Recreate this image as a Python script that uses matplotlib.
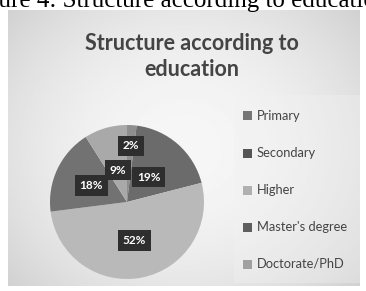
import numpy as np
import matplotlib
matplotlib.use('Agg')
import matplotlib.pyplot as plt

categories = ['Primary', 'Secondary', 'Higher', "Master's degree", 'Doctorate/PhD']
shares = [2, 19, 52, 18, 9]
slice_colors = ['#8e8e8e', '#6b6b6b', '#b9b9b9', '#727272', '#a9a9a9']
legend_colors = ['#767676', '#555555', '#b0b0b0', '#5e5e5e', '#a0a0a0']
label_radius = [0.73, 0.43, 0.51, 0.51, 0.43]

plt.rcParams['font.family'] = ['Lato', 'DejaVu Sans']

fig = plt.figure(figsize=(3.66, 2.91), dpi=100)
fig.patch.set_facecolor('white')
W, H = 366, 291

# caption cut at the top of the picture, as in the scan
fig.text(177 / W, 1 - 1 / H, 'Figure 4: Structure according to education', ha='center', va='center',
         fontsize=18, family='Liberation Serif', color='black')

# chart area with soft gradient
bg = fig.add_axes([8 / W, 1 - 286 / H, 352 / W, 276 / H])
yy, xx = np.mgrid[-1:1:200j, -1:1:200j]
grad = 0.965 - 0.10 * np.clip(np.sqrt((xx * 0.9) ** 2 + (yy * 0.8) ** 2), 0, 1.3) ** 2
bg.imshow(grad, cmap='gray', vmin=0, vmax=1, aspect='auto', extent=[0, 1, 0, 1])
bg.set_axis_off()

fig.text(192 / W, 1 - 43 / H, 'Structure according to', ha='center', va='center',
         fontsize=15.5, fontweight='bold', color='#444444')
fig.text(192 / W, 1 - 69 / H, 'education', ha='center', va='center',
         fontsize=15.5, fontweight='bold', color='#444444')

# pie
cx, cy, r = 127, 202, 77
ax = fig.add_axes([(cx - r) / W, 1 - (cy + r) / H, 2 * r / W, 2 * r / H])
wedges, _ = ax.pie(shares, colors=slice_colors, startangle=90, counterclock=False,
                   radius=1.0, wedgeprops=dict(linewidth=0))
ax.set_xlim(-1, 1)
ax.set_ylim(-1, 1)
ax.set_aspect('auto')

for w, val, rr in zip(wedges, shares, label_radius):
    ang = np.deg2rad((w.theta1 + w.theta2) / 2)
    ax.text(rr * np.cos(ang), rr * np.sin(ang), f'{val}%', ha='center', va='center',
            fontsize=8.5, fontweight='bold', color='white',
            bbox=dict(boxstyle='square,pad=0.4', fc='#2e2e2e', ec='none'))

# legend
leg_ax = fig.add_axes([234 / W, 1 - 283 / H, 126 / W, 188 / H])
leg_ax.set_xlim(0, 126)
leg_ax.set_ylim(188, 0)
leg_ax.set_facecolor('#f2f2f2')
leg_ax.patch.set_alpha(0.35)
for s in leg_ax.spines.values():
    s.set_visible(False)
leg_ax.set_xticks([])
leg_ax.set_yticks([])
for i, (name, col) in enumerate(zip(categories, legend_colors)):
    y = 21 + i * 37
    leg_ax.add_patch(plt.Rectangle((9, y - 4.5), 9, 9, fc=col, ec='none'))
    leg_ax.text(23, y, name, ha='left', va='center', fontsize=9.3, color='#444444')

fig.savefig('out.png', dpi=100)
